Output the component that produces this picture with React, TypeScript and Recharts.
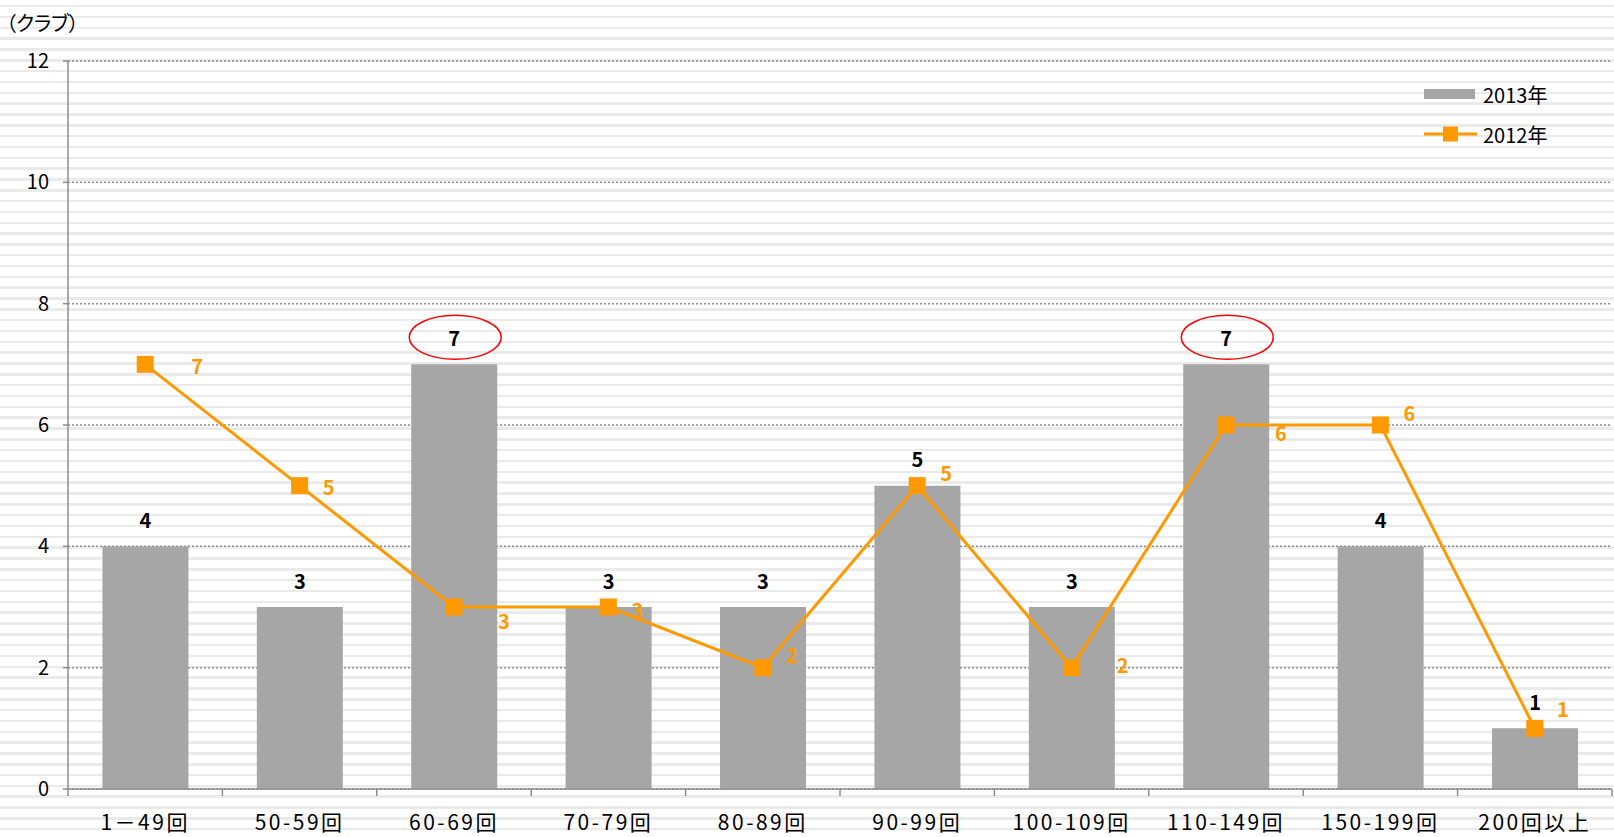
import { ComposedChart, Bar, Line, XAxis, YAxis, CartesianGrid } from "recharts";

const categories = [
  "1－49回",
  "50-59回",
  "60-69回",
  "70-79回",
  "80-89回",
  "90-99回",
  "100-109回",
  "110-149回",
  "150-199回",
  "200回以上",
];
const clubs2013 = [4, 3, 7, 3, 3, 5, 3, 7, 4, 1];
const clubs2012 = [7, 5, 3, 3, 2, 5, 2, 6, 6, 1];
const yTicks = [0, 2, 4, 6, 8, 10, 12];
// categories whose 2013 value gets the red circle
const circled = ["60-69回", "110-149回"];

// hand placed label nudges for the 2012 line (like the excel original)
const lineLabelOffsets = [
  [52, 1],
  [29, 1],
  [50, 13],
  [29, 2],
  [29, -13],
  [29, -13],
  [51, -3],
  [55, 7],
  [29, -13],
  [28, -20],
];

const data = categories.map((name, i) => ({
  name,
  y2013: clubs2013[i],
  y2012: clubs2012[i],
}));

const W = 1614;
const H = 837;
const MARGIN = { top: 61, right: 2, bottom: 0, left: 8 };
const Y_W = 60;
const BAND = (W - MARGIN.left - MARGIN.right - Y_W) / categories.length;

const FONT = '"Noto Sans CJK JP", "Noto Sans", sans-serif';
const ORANGE = "#FF9900";
const GREY = "#A6A6A6";
const AXIS = "#8c8c8c";

const XTick = (props) => {
  const { x, y, payload, index } = props;
  return (
    <g>
      <line x1={x - BAND / 2} x2={x - BAND / 2} y1={y} y2={y + 7} stroke={AXIS} strokeWidth={1.5} />
      {index === categories.length - 1 && (
        <line x1={x + BAND / 2} x2={x + BAND / 2} y1={y} y2={y + 7} stroke={AXIS} strokeWidth={1.5} />
      )}
      <text
        x={x}
        y={y + 32}
        textAnchor="middle"
        dominantBaseline="central"
        fontSize={21}
        fontFamily={FONT}
        letterSpacing={2.5}
        fill="#000"
      >
        {payload.value}
      </text>
    </g>
  );
};

const barLabel = (props) => {
  const { x, y, width, value, index } = props;
  const cx = x + width / 2;
  const cy = y - 27;
  return (
    <g>
      {circled.includes(categories[index]) && (
        <ellipse cx={cx + 1} cy={cy} rx={46} ry={22} fill="none" stroke="#FF0000" strokeWidth={1.5} />
      )}
      <text
        x={cx}
        y={cy}
        textAnchor="middle"
        dominantBaseline="central"
        fontSize={20}
        fontWeight="bold"
        fontFamily={FONT}
        fill="#000"
      >
        {value}
      </text>
    </g>
  );
};

const lineLabel = (props) => {
  const { x, y, value, index } = props;
  const [dx, dy] = lineLabelOffsets[index];
  return (
    <text
      x={x + dx}
      y={y + dy}
      textAnchor="middle"
      dominantBaseline="central"
      fontSize={20}
      fontWeight="bold"
      fontFamily={FONT}
      fill={ORANGE}
    >
      {value}
    </text>
  );
};

const squareDot = (props) => {
  const { cx, cy, index } = props;
  return <rect key={"d" + index} x={cx - 8.5} y={cy - 8.5} width={17} height={17} fill={ORANGE} />;
};

export default function App() {
  return (
    <div
      style={{
        position: "absolute",
        left: 0,
        top: 0,
        width: W,
        height: H,
        background:
          "repeating-linear-gradient(to bottom, #ffffff 0px, #ffffff 4.9px, #eaeaea 4.9px, #eaeaea 7.4px, #ffffff 7.4px, #ffffff 10.83px)",
      }}
    >
      <div
        style={{
          position: "absolute",
          left: 6,
          top: 8,
          fontFamily: FONT,
          fontSize: 20,
          fontFeatureSettings: '"palt"',
          color: "#000",
        }}
      >
        （クラブ）
      </div>
      {/* legend drawn by hand so it takes no room from the plot */}
      <div
        style={{
          position: "absolute",
          left: 1424,
          top: 79,
          fontFamily: FONT,
          fontSize: 20,
          color: "#000",
          zIndex: 2,
        }}
      >
        <div style={{ display: "flex", alignItems: "center", height: 30 }}>
          <div style={{ width: 51, height: 10, background: GREY, marginRight: 8 }} />
          <span>2013年</span>
        </div>
        <div style={{ display: "flex", alignItems: "center", height: 30, marginTop: 10 }}>
          <svg width={53} height={18} style={{ marginRight: 6 }}>
            <line x1={0} x2={53} y1={9} y2={9} stroke={ORANGE} strokeWidth={3} />
            <rect x={19} y={1.5} width={15} height={15} fill={ORANGE} />
          </svg>
          <span>2012年</span>
        </div>
      </div>
      <ComposedChart width={W} height={H} data={data} margin={MARGIN} barCategoryGap="22.3%">
        <CartesianGrid vertical={false} stroke={AXIS} strokeDasharray="2 2" strokeWidth={1.5} />
        <XAxis
          dataKey="name"
          height={48}
          axisLine={{ stroke: AXIS, strokeWidth: 1.5 }}
          tickLine={false}
          tickSize={0}
          tickMargin={0}
          tick={<XTick />}
          interval={0}
        />
        <YAxis
          width={Y_W}
          domain={[0, 12]}
          ticks={yTicks}
          interval={0}
          axisLine={{ stroke: AXIS, strokeWidth: 1.5 }}
          tickLine={{ stroke: AXIS, strokeWidth: 1.5 }}
          tickSize={5}
          tickMargin={14}
          tick={{ fontSize: 20, fill: "#000", fontFamily: FONT }}
        />
        <Bar dataKey="y2013" name="2013年" fill={GREY} isAnimationActive={false} label={barLabel} />
        <Line
          dataKey="y2012"
          name="2012年"
          type="linear"
          stroke={ORANGE}
          strokeWidth={3}
          dot={squareDot}
          activeDot={false}
          isAnimationActive={false}
          label={lineLabel}
        />
      </ComposedChart>
    </div>
  );
}
